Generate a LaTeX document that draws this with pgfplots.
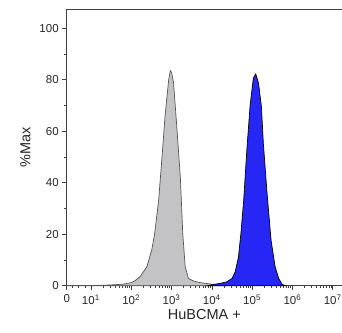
\documentclass[border=0pt]{standalone}
\usepackage{pgfplots}
\pgfplotsset{compat=1.18}
\usepackage{fontspec}
\setmainfont{Liberation Sans}
\usetikzlibrary{calc}
\definecolor{greyfill}{RGB}{195,195,197}
\definecolor{greyline}{RGB}{85,85,85}
\definecolor{bluefill}{RGB}{38,38,245}
\begin{document}
\begin{tikzpicture}
\begin{axis}[
  scale only axis,
  width=275.3pt, height=276.7pt,
  xmin=0.4, xmax=7.23,
  ymin=0, ymax=107.5,
  axis x line*=bottom,
  axis y line*=left,
  axis line style={black!75, line width=0.6pt},
  tick style={black!75, line width=0.6pt},
  tick align=outside,
  major tick length=4.5pt,
  minor tick length=2.5pt,
  xtick={0.4,1,2,3,4,5,6,7},
  xticklabels={0,10\textsuperscript{1},10\textsuperscript{2},10\textsuperscript{3},10\textsuperscript{4},10\textsuperscript{5},10\textsuperscript{6},10\textsuperscript{7}},
  minor xtick={0.55,0.7,0.85,
    1.301,1.477,1.602,1.699,1.778,1.845,1.903,1.954,
    2.301,2.477,2.602,2.699,2.778,2.845,2.903,2.954,
    3.301,3.477,3.602,3.699,3.778,3.845,3.903,3.954,
    4.301,4.477,4.602,4.699,4.778,4.845,4.903,4.954,
    5.301,5.477,5.602,5.699,5.778,5.845,5.903,5.954,
    6.301,6.477,6.602,6.699,6.778,6.845,6.903,6.954},
  ytick={0,20,40,60,80,100},
  minor ytick={10,30,50,70,90},
  /pgf/number format/assume math mode=true,
  ticklabel style={font=\fontsize{11.5}{13}\selectfont, text=black!85},
  xticklabel style={yshift=-1pt},
  xlabel={HuBCMA +},
  ylabel={\%Max},
  label style={font=\fontsize{14.5}{16}\selectfont, text=black!85},
  xlabel style={yshift=2pt},
  ylabel style={yshift=2pt},
  clip=false,
]
\addplot[fill=greyfill, draw=greyline, line width=0.7pt] coordinates {
(0.4,0) (1.2,0.1) (1.5,0.3) (1.8,0.6) (2.0,1.2) (2.1,2) (2.22,3.5) (2.39,7.4) (2.51,13.9) (2.58,20) (2.68,33) (2.76,49) (2.84,66) (2.93,80) (2.97,83.5) (3.0,83) (3.05,79) (3.13,62) (3.22,42) (3.28,20) (3.34,7.4) (3.42,2.8) (3.55,1.8) (3.71,1.2) (3.9,0.8) (4.04,0.5) (4.2,0.2) (4.4,0)
} \closedcycle;
\addplot[fill=bluefill, draw=black, line width=0.7pt] coordinates {
(3.9,0) (4.04,0.5) (4.21,0.9) (4.37,1.5) (4.5,2.8) (4.58,5.4) (4.66,11) (4.72,20) (4.79,33) (4.87,53) (4.95,70) (5.03,80.6) (5.09,82.3) (5.16,78.6) (5.23,69.6) (5.28,55) (5.37,36) (5.47,17.7) (5.57,7.4) (5.66,2.8) (5.74,0.6) (5.82,0)
} \closedcycle;
\draw[black!75, line width=0.6pt] (rel axis cs:0,1) -- (rel axis cs:1,1);
\coordinate (ll) at (rel axis cs:0,0);
\coordinate (ur) at (rel axis cs:1,1);
\end{axis}
\pgfresetboundingbox
\path ($(ll)+(-66.7pt,-47.3pt)$) rectangle ($(ur)+(0pt,9pt)$);
\end{tikzpicture}
\end{document}
